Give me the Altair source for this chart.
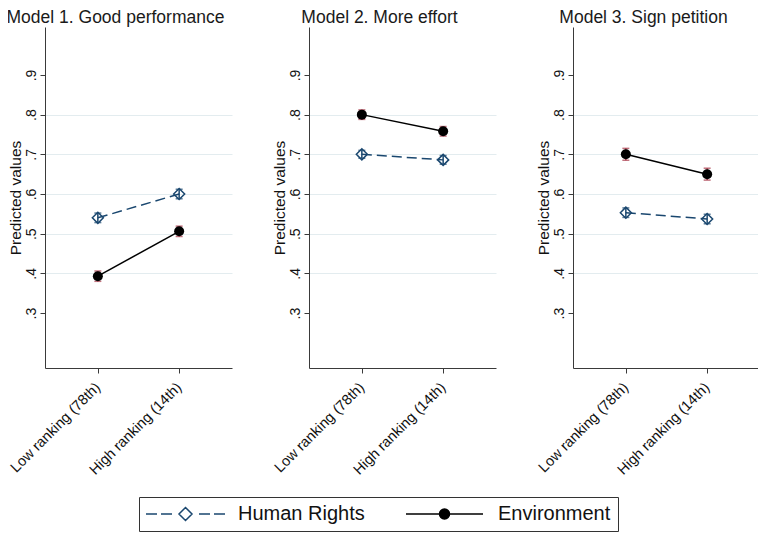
import altair as alt
import pandas as pd

models = ["Model 1. Good performance", "Model 2. More effort", "Model 3. Sign petition"]
rankings = ["Low ranking (78th)", "High ranking (14th)"]
series = ["Human Rights", "Environment"]

hr_mean = [[0.540, 0.600], [0.700, 0.686], [0.553, 0.537]]
hr_half = [[0.012, 0.012], [0.010, 0.011], [0.012, 0.012]]
env_mean = [[0.393, 0.506], [0.800, 0.758], [0.700, 0.650]]
env_half = [[0.013, 0.013], [0.012, 0.012], [0.015, 0.015]]

y_ticks = [0.3, 0.4, 0.5, 0.6, 0.7, 0.8, 0.9]

rows = []
for i, m in enumerate(models):
    for j, r in enumerate(rankings):
        rows.append(dict(model=m, ranking=r, series=series[0], mean=hr_mean[i][j],
                         lo=hr_mean[i][j] - hr_half[i][j], hi=hr_mean[i][j] + hr_half[i][j]))
        rows.append(dict(model=m, ranking=r, series=series[1], mean=env_mean[i][j],
                         lo=env_mean[i][j] - env_half[i][j], hi=env_mean[i][j] + env_half[i][j]))
df = pd.DataFrame(rows)
legend_df = pd.DataFrame({"series": series, "ranking": [rankings[0], rankings[0]], "mean": [5.0, 5.0]})

NAVY = "#1a476f"
CAP = "#a83848"
FONT = "Liberation Sans"

# legend symbol paths (unit = 5px, symbol centre 10px from entry start)
C0 = 10.0


def seg(a, b):
    return "M%.3f,0L%.3f,0" % ((a - C0) / 5.0, (b - C0) / 5.0)


def diamond(c, h):
    cx = (c - C0) / 5.0
    hh = h / 5.0
    return "M%.3f,%.3fL%.3f,0L%.3f,%.3fL%.3f,0Z" % (cx, -hh, cx + hh, cx, hh, cx - hh)


def circle(c, r):
    cx = (c - C0) / 5.0
    rr = r / 5.0
    return "M%.3f,0A%.3f,%.3f,0,1,1,%.3f,0A%.3f,%.3f,0,1,1,%.3f,0Z" % (cx - rr, rr, rr, cx + rr, rr, rr, cx - rr)


hr_path = seg(0, 11) + seg(15, 26) + diamond(39.5, 6.5) + seg(53, 64) + seg(68, 79)
env_path = seg(0, 77) + circle(38.5, 5)

legend = alt.Legend(title=None, orient="none", legendX=94, legendY=470, direction="horizontal",
                    labelFontSize=20, labelFont=FONT, labelColor="#111", symbolSize=100,
                    symbolStrokeWidth=1.5, labelOffset=72, columnPadding=38, padding=7,
                    strokeColor="#333", fillColor="white", labelLimit=300)

x_enc = alt.X("ranking:N", sort=rankings,
              scale=alt.Scale(type="point", domain=rankings, padding=0.65),
              axis=alt.Axis(title=None, labelAngle=315, labelAlign="right", labelBaseline="middle",
                            tickSize=5, labelPadding=12, labelFontSize=14.5, grid=False))


def y_enc(field):
    return alt.Y(field + ":Q",
                 scale=alt.Scale(domain=[0.1616, 1.0208], nice=False, zero=False),
                 axis=alt.Axis(title="Predicted values", values=y_ticks,
                               labelExpr="replace(format(datum.value, '.1f'), '0.', '.')",
                               labelAngle=270, labelAlign="center", labelBaseline="bottom",
                               tickSize=5, labelPadding=1.5, labelFontSize=14,
                               titleFontSize=15.5, titlePadding=1, titleFontWeight="normal",
                               grid=True, gridColor="#e3ecef",
                               gridOpacity={"condition": {"test": "datum.value < 0.35 || datum.value > 0.85", "value": 0}, "value": 1}))


def panel(m):
    base = alt.Chart(df).transform_filter(alt.datum.model == m)
    hr = base.transform_filter(alt.datum.series == series[0])
    env = base.transform_filter(alt.datum.series == series[1])

    hr_line = hr.mark_line(color=NAVY, strokeWidth=1.5, strokeDash=[10, 5]).encode(x=x_enc, y=y_enc("mean"))
    env_line = env.mark_line(color="black", strokeWidth=1.5).encode(x=x_enc, y=y_enc("mean"))

    hr_rule = hr.mark_rule(color=NAVY, strokeWidth=1.5).encode(x=x_enc, y=y_enc("lo"), y2="hi:Q")
    env_rule = env.mark_rule(color=CAP, strokeWidth=1.5).encode(x=x_enc, y=y_enc("lo"), y2="hi:Q")
    hr_cap_lo = hr.mark_tick(color=NAVY, thickness=1.5, size=7).encode(x=x_enc, y=y_enc("lo"))
    hr_cap_hi = hr.mark_tick(color=NAVY, thickness=1.5, size=7).encode(x=x_enc, y=y_enc("hi"))
    env_cap_lo = env.mark_tick(color=CAP, thickness=1.5, size=7).encode(x=x_enc, y=y_enc("lo"))
    env_cap_hi = env.mark_tick(color=CAP, thickness=1.5, size=7).encode(x=x_enc, y=y_enc("hi"))

    hr_pt = hr.mark_point(shape="diamond", filled=False, size=121, strokeWidth=1.5, color=NAVY, opacity=1).encode(
        x=x_enc, y=y_enc("mean"))
    env_pt = env.mark_point(shape="circle", filled=True, size=100, color="black", opacity=1).encode(
        x=x_enc, y=y_enc("mean"))

    leg = alt.Chart(legend_df).mark_point(clip=True, strokeWidth=1.5, opacity=1).encode(
        x=x_enc, y=y_enc("mean"),
        shape=alt.Shape("series:N", scale=alt.Scale(domain=series, range=[hr_path, env_path]), legend=legend),
        stroke=alt.Stroke("series:N", scale=alt.Scale(domain=series, range=[NAVY, "black"]), legend=legend),
        fill=alt.Fill("series:N", scale=alt.Scale(domain=series, range=["transparent", "black"]), legend=legend),
    )

    return alt.layer(hr_line, env_line, hr_rule, env_rule, hr_cap_lo, hr_cap_hi, env_cap_lo, env_cap_hi,
                     hr_pt, env_pt, leg).properties(
        width=187, height=341,
        title=alt.TitleParams(text=m, anchor="middle", dx=-23, offset=-13, baseline="alphabetic",
                              fontSize=17.5, font=FONT, fontWeight="normal", color="#1a1a1a"))


chart = alt.hconcat(*[panel(m) for m in models], spacing=77, bounds="flush").properties(
    padding={"left": -2, "top": 0, "right": -2, "bottom": 0}
).configure_view(stroke=None).configure_axis(
    domainColor="#3a3a3a", tickColor="#3a3a3a", labelColor="#111", titleColor="#111",
    labelFont=FONT, titleFont=FONT, domainWidth=1, tickWidth=1
)

chart.save("out.html", embed_options={"renderer": "svg", "actions": False})
